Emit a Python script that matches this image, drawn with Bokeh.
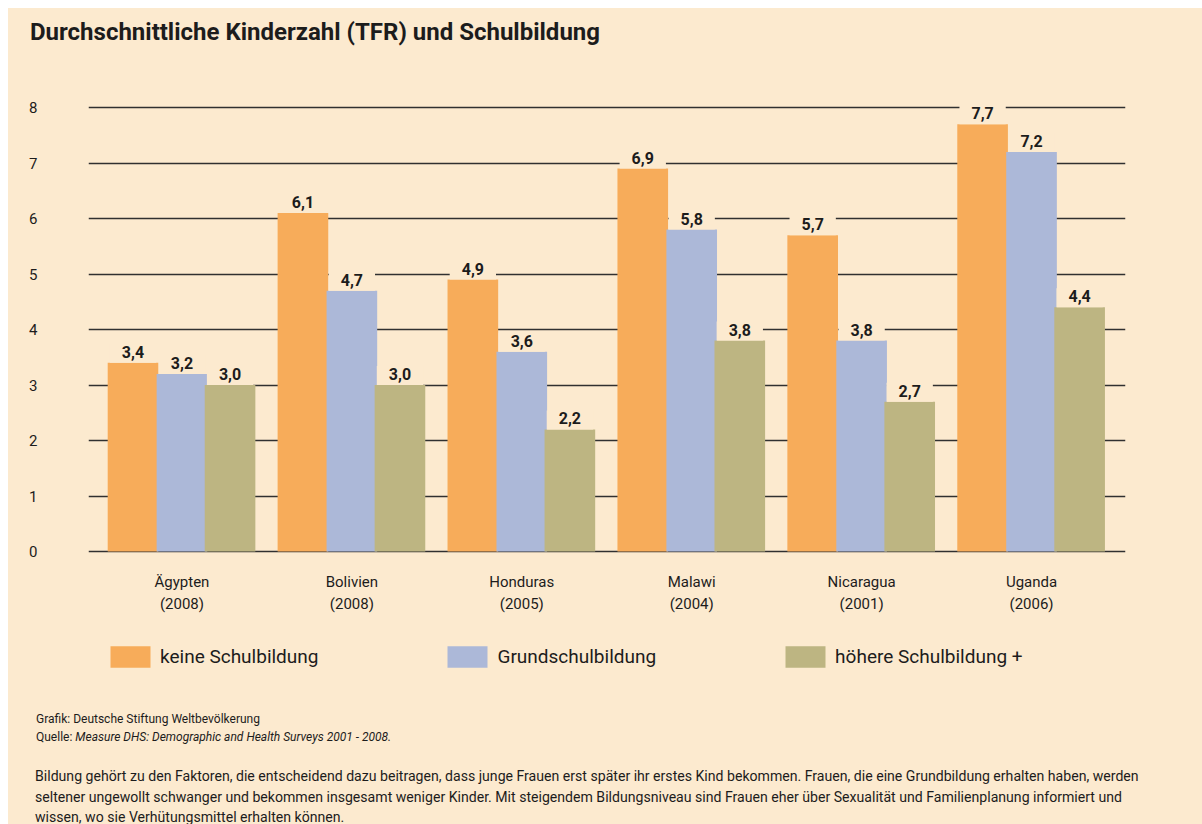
from bokeh.plotting import figure
from bokeh.models import (ColumnDataSource, Range1d, FixedTicker, Legend, LegendItem, Div)
from bokeh.layouts import column
from bokeh.core.properties import value
from bokeh.embed import file_html
from bokeh.resources import INLINE

# ---- data ----
countries = ["Ägypten", "Bolivien", "Honduras", "Malawi", "Nicaragua", "Uganda"]
years = ["(2008)", "(2008)", "(2005)", "(2004)", "(2001)", "(2006)"]
keine = [3.4, 6.1, 4.9, 6.9, 5.7, 7.7]
grund = [3.2, 4.7, 3.6, 5.8, 3.8, 7.2]
hoehere = [3.0, 3.0, 2.2, 3.8, 2.7, 4.4]
series_names = ["keine Schulbildung", "Grundschulbildung", "höhere Schulbildung +"]
y_ticks = [0, 1, 2, 3, 4, 5, 6, 7, 8]

title_text = "Durchschnittliche Kinderzahl (TFR) und Schulbildung"
credit_text = "Grafik: Deutsche Stiftung Weltbevölkerung"
source_prefix = "Quelle:"
source_text = "Measure DHS: Demographic and Health Surveys 2001 - 2008."
paragraph = [
    "Bildung gehört zu den Faktoren, die entscheidend dazu beitragen, dass junge Frauen erst später ihr erstes Kind bekommen. Frauen, die eine Grundbildung erhalten haben, werden",
    "seltener ungewollt schwanger und bekommen insgesamt weniger Kinder. Mit steigendem Bildungsniveau sind Frauen eher über Sexualität und Familienplanung informiert und",
    "wissen, wo sie Verhütungsmittel erhalten können.",
]

# ---- style ----
BG = "#FCEACF"
COLORS = ["#F7AC5A", "#ACB8D8", "#BDB582"]
TXT = "#1c1c1c"
FONT = "Roboto"
W = 1194
FIG_H = 632
PX_PER_UNIT = 55.5            # vertical scale of the value axis
Y_TOP = 8 + 6 / PX_PER_UNIT   # a little headroom above the "8" line
Y_BOTTOM = -149 / PX_PER_UNIT  # frame continues below 0 to hold labels + legend
LABEL_Y = -0.39               # top of the category labels (data units)

title_div = Div(
    text=f'<div style="position:relative;width:{W}px;height:60px;">'
         f'<div style="position:absolute;left:22px;top:10px;font-family:{FONT};font-weight:bold;'
         f'font-size:24px;line-height:28px;color:{TXT};white-space:nowrap;">{title_text}</div></div>',
    width=W, height=60, margin=0, styles={"background-color": BG})

p = figure(width=W, height=FIG_H, output_backend="svg", toolbar_location=None,
           x_range=Range1d(-0.55, 5.553), y_range=Range1d(Y_BOTTOM, Y_TOP),
           x_axis_location=None,
           min_border_left=80, min_border_right=77, min_border_top=33,
           min_border_bottom=0, margin=0)
p.background_fill_color = BG
p.border_fill_color = BG
p.outline_line_color = None

xs = list(range(len(countries)))
offsets = [-0.288, 0.0, 0.283]
width = 0.298
renderers = []
sources = []
for vals, off, col in zip([keine, grund, hoehere], offsets, COLORS):
    src = ColumnDataSource(dict(
        x=[x + off for x in xs], top=vals,
        lab=[f"{v:.1f}".replace(".", ",") for v in vals]))
    r = p.vbar(x="x", top="top", bottom=0, width=width, source=src,
               fill_color=col, line_color=None)
    renderers.append(r)
    sources.append(src)

# value labels (with a background patch that hides the grid line behind them)
for src in sources:
    p.text(x="x", y="top", text="lab", source=src, text_align="center",
           text_baseline="bottom", y_offset=0, text_font=value(FONT),
           text_font_style="bold", text_font_size="16px", text_color=TXT,
           background_fill_color=BG,
           padding=dict(left=12, right=12, top=2, bottom=5))

# category labels under each group
cat_src = ColumnDataSource(dict(x=xs, y=[LABEL_Y] * len(xs),
                                lab=[f"{c}\n{y}" for c, y in zip(countries, years)]))
p.text(x="x", y="y", text="lab", source=cat_src, text_align="center", text_baseline="top",
       text_line_height=1.2, text_font=value(FONT), text_font_size="15px", text_color=TXT)

# grid and y axis
p.xgrid.grid_line_color = None
p.ygrid.ticker = FixedTicker(ticks=y_ticks)
p.ygrid.grid_line_color = "#303030"
p.ygrid.grid_line_width = 1.6

p.yaxis.ticker = FixedTicker(ticks=y_ticks)
p.yaxis.axis_line_color = None
p.yaxis.major_tick_line_color = None
p.yaxis.major_tick_out = 0
p.yaxis.major_tick_in = 0
p.yaxis.minor_tick_line_color = None
p.yaxis.major_label_standoff = 51
p.yaxis.major_label_text_font = FONT
p.yaxis.major_label_text_font_size = "15px"
p.yaxis.major_label_text_color = TXT

# legend
legend = Legend(items=[LegendItem(label=n, renderers=[r]) for n, r in zip(series_names, renderers)],
                orientation="horizontal", location=(17, 30),
                glyph_width=50, glyph_height=27, label_standoff=5, spacing=124,
                padding=0, margin=0, border_line_color=None, background_fill_alpha=0,
                label_text_font=FONT, label_text_font_size="19px", label_text_color=TXT)
p.add_layout(legend, "center")

src_html = (
    f'<div style="position:relative;width:{W}px;height:124px;font-family:{FONT};color:{TXT};white-space:nowrap;">'
    f'<div style="position:absolute;left:28px;top:12px;font-size:12px;line-height:14px;">{credit_text}</div>'
    f'<div style="position:absolute;left:28px;top:30px;font-size:12px;line-height:14px;">{source_prefix} <i>{source_text}</i></div>'
)
for i, line in enumerate(paragraph):
    src_html += (f'<div style="position:absolute;left:27px;top:{66 + 20.5 * i:.1f}px;font-size:14.1px;'
                 f'line-height:20px;">{line}</div>')
src_html += '</div>'
footer_div = Div(text=src_html, width=W, height=124, margin=0, styles={"background-color": BG})

layout = column(title_div, p, footer_div, spacing=0, margin=(8, 0, 0, 8),
                styles={"background-color": BG})
open("out.html", "w").write(file_html(layout, INLINE))
